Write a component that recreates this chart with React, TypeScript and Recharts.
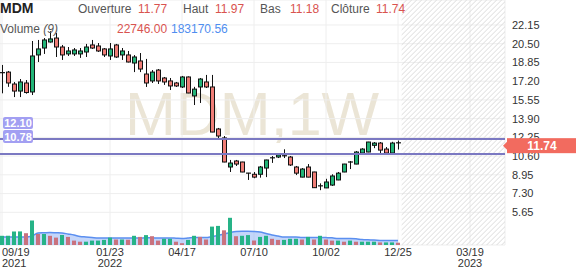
import React from "react";
import {
  ComposedChart,
  Bar,
  Area,
  Line,
  XAxis,
  YAxis,
  CartesianGrid,
  ReferenceLine,
  ReferenceArea,
  Cell,
} from "recharts";

// weekly candles, 09/19/2021 .. 12/25/2022
const opens = [
  17.9, 18.0, 16.95, 16.33, 17.04, 16.25, 19.51, 20.12, 20.65, 21.0, 20.21, 19.6, 19.6, 19.6, 19.77, 20.39, 20.3,
  20.04, 19.42, 20.39, 19.51, 19.51, 18.8, 18.98, 17.83, 17.22, 18.18, 17.48, 17.22, 17.04, 16.69, 17.57, 15.9,
  16.69, 17.13, 16.69, 12.99, 12.2, 9.64, 10.17, 10.08, 9.05, 9.0, 9.0, 9.55, 10.4, 10.52, 10.58, 10.52, 9.64,
  8.75, 9.64, 9.2, 7.95, 7.8, 8.05, 8.5, 9.2, 10.0, 9.9, 10.87, 10.96, 11.55, 11.75, 11.22, 10.87, 11.77,
];
const highs = [
  18.63, 18.1, 17.13, 17.39, 17.3, 20.74, 20.83, 21.0, 21.6, 21.45, 20.39, 20.21, 20.12, 20.12, 20.48, 20.83, 20.56,
  20.12, 20.56, 20.48, 20.12, 19.86, 19.5, 19.68, 19.16, 18.18, 18.27, 17.57, 17.48, 17.13, 17.66, 17.62, 16.7,
  17.48, 17.75, 17.75, 13.08, 12.37, 10.26, 10.26, 10.1, 9.12, 9.2, 9.73, 10.28, 10.61, 10.87, 11.2, 10.61, 9.73,
  9.55, 9.9, 9.22, 8.2, 8.6, 9.0, 9.2, 9.92, 10.17, 11.05, 11.3, 11.86, 11.84, 11.84, 11.4, 11.86, 11.97,
];
const lows = [
  16.13, 16.7, 15.8, 15.8, 16.1, 15.98, 18.89, 19.6, 20.6, 19.33, 19.07, 19.42, 19.42, 19.25, 19.33, 20.04, 19.77,
  19.33, 19.07, 19.25, 19.07, 18.85, 18.0, 18.0, 16.69, 17.04, 16.95, 16.87, 16.42, 16.69, 16.6, 16.14, 15.1,
  15.28, 16.6, 12.7, 12.02, 10.06, 9.2, 9.73, 9.18, 8.5, 8.65, 8.7, 8.75, 10.0, 10.43, 10.43, 9.73, 8.93,
  8.73, 8.73, 7.8, 7.6, 7.78, 7.97, 8.48, 9.18, 9.46, 9.88, 10.85, 10.94, 11.3, 10.87, 10.85, 10.85, 11.18,
];
const closes = [
  17.95, 17.04, 16.33, 17.13, 16.2, 19.42, 20.04, 20.83, 20.92, 20.21, 19.51, 19.86, 19.95, 19.86, 20.21, 20.12, 19.86,
  19.51, 20.04, 19.33, 19.86, 18.89, 19.33, 18.27, 17.04, 18.0, 17.22, 17.13, 16.78, 16.78, 17.57, 16.16, 16.5,
  17.39, 16.69, 12.72, 12.37, 10.08, 9.99, 9.9, 9.2, 9.1, 8.75, 9.64, 10.26, 10.45, 10.7, 10.63, 9.82, 9.1,
  9.46, 8.75, 7.82, 7.98, 8.32, 8.85, 9.1, 9.9, 10.08, 10.96, 11.22, 11.84, 11.75, 11.13, 10.87, 11.75, 11.74,
];
const volumes = [
  92000, 92000, 136000, 136000, 118000, 246000, 110000, 110000, 92000, 74000, 99000, 81000, 44000, 33000, 33000,
  44000, 44000, 51000, 74000, 55000, 55000, 53000, 92000, 81000, 99000, 88000, 44000, 62000, 62000, 33000, 18000,
  51000, 92000, 81000, 55000, 184000, 191000, 147000, 272000, 88000, 92000, 99000, 44000, 81000, 92000, 62000,
  51000, 51000, 62000, 62000, 55000, 81000, 55000, 92000, 55000, 44000, 44000, 33000, 44000, 33000, 33000, 33000,
  33000, 26000, 26000, 26000, 22746,
];
const volumeMA = [
  80000, 80000, 80000, 80000, 80000, 90000, 120000, 122000, 124000, 122000, 120000, 110000, 100000, 85000, 80000,
  75000, 70000, 70000, 70000, 70000, 70000, 70000, 70000, 70000, 72000, 72000, 70000, 70000, 70000, 68000, 66000,
  70000, 75000, 75000, 75000, 85000, 95000, 110000, 125000, 136000, 138000, 138000, 136000, 130000, 115000, 100000,
  90000, 80000, 80000, 80000, 75000, 75000, 75000, 75000, 74000, 72000, 65000, 65000, 65000, 62000, 55000, 52000,
  50000, 46000, 44000, 44000, 44000,
];

const tickWeeks = [0, 18, 30, 42, 54, 66, 78];
const tickDates = ["09/19", "01/23", "04/17", "07/10", "10/02", "12/25", "03/19"];
const tickYears = ["2021", "2022", "", "", "", "", "2023"];
const priceTicks = [22.15, 20.5, 18.85, 17.2, 15.55, 13.9, 12.25, 10.6, 8.95, 7.3, 5.65];

const levelHigh = 12.1;
const levelLow = 10.78;
const lastClose = 11.74;

const data = opens.map((o, i) => ({
  i,
  open: o,
  high: highs[i],
  low: lows[i],
  close: closes[i],
  range: [lows[i], highs[i]],
  volume: volumes[i],
  ma: volumeMA[i],
}));

const FONT = "Arial, 'Liberation Sans', sans-serif";
const GREEN = "#22b477";
const RED = "#ef7d76";
const X_DOMAIN: [number, number] = [-1 / 3, 83.83];
const P_DOMAIN: [number, number] = [2.77, 24.35];

const Candle = (props: any) => {
  const { x, y, width, height, payload } = props;
  const { open, close, high, low } = payload;
  const cx = Math.round(x + width / 2) + 0.5;
  const k = height / (high - low);
  const py = (v: number) => y + (high - v) * k;
  const top = py(Math.max(open, close));
  const bot = py(Math.min(open, close));
  const flat = bot - top < 1.5;
  return (
    <g>
      <line x1={cx} x2={cx} y1={y} y2={y + height} stroke="#111" strokeWidth={1} />
      {flat ? (
        <line x1={cx - 2.5} x2={cx + 2.5} y1={top} y2={top} stroke="#111" strokeWidth={1.2} />
      ) : (
        <rect
          x={cx - 2}
          y={top}
          width={4}
          height={bot - top}
          fill={close >= open ? GREEN : RED}
          stroke="#111"
          strokeWidth={1}
        />
      )}
    </g>
  );
};

const DateTick = (props: any) => {
  const { x, y, payload, index } = props;
  const k = tickWeeks.indexOf(payload.value);
  const anchor = index === 0 ? "start" : "middle";
  return (
    <g>
      <text x={x} y={y + 9} textAnchor={anchor} fontSize={11} fill="#333" fontFamily={FONT}>
        {tickDates[k]}
      </text>
      <text x={x} y={y + 20} textAnchor={anchor} fontSize={11} fill="#333" fontFamily={FONT}>
        {tickYears[k]}
      </text>
    </g>
  );
};

// striped "future" zone right of the last bar
const Hatch = (props: any) => {
  const { x, y, width, height } = props;
  const lines = [];
  for (let d = -height; d < width; d += 5) {
    lines.push(
      <line key={d} x1={x + d} y1={y + height} x2={x + d + height} y2={y} stroke="#dcdcdc" strokeWidth={1} />
    );
  }
  return (
    <g>
      <clipPath id="hatchClip">
        <rect x={x} y={y} width={width} height={height} />
      </clipPath>
      <g clipPath="url(#hatchClip)">{lines}</g>
    </g>
  );
};

const LevelLabel = (props: any) => {
  const { viewBox, text, dy, h } = props;
  const top = viewBox.y + dy;
  return (
    <g>
      <rect x={3} y={top} width={30} height={h} rx={2} fill="#a29ff2" />
      <text x={18} y={top + h / 2 + 4} textAnchor="middle" fontSize={11} fontWeight="bold" fill="#fff" fontFamily={FONT}>
        {text}
      </text>
    </g>
  );
};

const PriceLabel = (props: any) => {
  const { viewBox } = props;
  const left = viewBox.x + viewBox.width + 2;
  const cy = viewBox.y + 2.5;
  return (
    <g>
      <polygon points={`${left - 4},${cy} ${left},${cy - 4} ${left},${cy + 4}`} fill="#f26b5f" />
      <rect x={left} y={cy - 7.5} width={576 - left} height={15} fill="#f26b5f" />
      <text x={left + 35} y={cy + 4.5} textAnchor="middle" fontSize={12} fontWeight="bold" fill="#fff" fontFamily={FONT}>
        {lastClose.toFixed(2)}
      </text>
    </g>
  );
};

export default function App() {
  return (
    <div
      style={{
        position: "fixed",
        left: 0,
        top: 0,
        width: 576,
        height: 268,
        background: "#fff",
        overflow: "hidden",
        fontFamily: FONT,
      }}
    >
      <div
        style={{
          position: "absolute",
          left: 125,
          top: 84,
          fontSize: 61,
          lineHeight: "61px",
          color: "#ebe5d6",
          whiteSpace: "nowrap",
        }}
      >
        MDM,1W
      </div>
      <div style={{ position: "absolute", left: 0, top: 0 }}>
        <ComposedChart width={576} height={268} data={data} margin={{ top: 0, right: 0, bottom: 0, left: 0 }}>
          <XAxis
            xAxisId="c"
            dataKey="i"
            type="number"
            domain={X_DOMAIN}
            allowDataOverflow
            ticks={tickWeeks}
            interval={0}
            axisLine={false}
            tickLine={false}
            tickSize={0}
            height={23}
            tick={<DateTick />}
          />
          <XAxis xAxisId="v" dataKey="i" type="number" domain={X_DOMAIN} allowDataOverflow hide />
          <YAxis
            yAxisId="p"
            orientation="right"
            width={71}
            domain={P_DOMAIN}
            ticks={priceTicks}
            interval={0}
            axisLine={false}
            tickLine={false}
            tickSize={0}
            tickMargin={7}
            tick={{ fontSize: 11, fill: "#333", fontFamily: FONT, textAnchor: "start" }}
            tickFormatter={(v: number) => v.toFixed(2)}
          />
          <YAxis yAxisId="vol" domain={[0, 2450000]} hide />
          <CartesianGrid xAxisId="c" yAxisId="p" stroke="#eeeeee" />
          <ReferenceArea
            xAxisId="c"
            yAxisId="p"
            x1={66.6}
            x2={X_DOMAIN[1]}
            y1={P_DOMAIN[0]}
            y2={P_DOMAIN[1]}
            shape={<Hatch />}
          />
          <Bar xAxisId="v" yAxisId="vol" dataKey="volume" barSize={4} isAnimationActive={false}>
            {data.map((d, i) => (
              <Cell key={i} fill={i > 0 && d.volume < volumes[i - 1] ? "#c9727e" : "#26b387"} />
            ))}
          </Bar>
          <Area
            xAxisId="v"
            yAxisId="vol"
            dataKey="ma"
            type="monotone"
            fill="#8aaef5"
            fillOpacity={0.5}
            stroke="#5b8ff0"
            strokeWidth={1.5}
            dot={false}
            isAnimationActive={false}
          />
          <Bar xAxisId="c" yAxisId="p" dataKey="range" barSize={4} shape={<Candle />} isAnimationActive={false} />
          <ReferenceLine
            xAxisId="c"
            yAxisId="p"
            y={levelHigh}
            stroke="#7b79c2"
            strokeWidth={2}
            label={(p: any) => <LevelLabel {...p} text={levelHigh.toFixed(2)} dy={-22} h={12} />}
          />
          <ReferenceLine
            xAxisId="c"
            yAxisId="p"
            y={levelLow}
            stroke="#7b79c2"
            strokeWidth={2}
            label={(p: any) => <LevelLabel {...p} text={levelLow.toFixed(2)} dy={-24} h={13} />}
          />
        </ComposedChart>
      </div>
      {/* overlay with the same layout so the last-price tag sits above the axis text */}
      <div style={{ position: "absolute", left: 0, top: 0 }}>
        <ComposedChart width={576} height={268} data={data} margin={{ top: 0, right: 0, bottom: 0, left: 0 }}>
          <XAxis xAxisId="c" dataKey="i" type="number" domain={X_DOMAIN} allowDataOverflow height={23} tick={false} axisLine={false} tickLine={false} />
          <YAxis yAxisId="p" orientation="right" width={71} domain={P_DOMAIN} allowDataOverflow tick={false} axisLine={false} tickLine={false} />
          <Line xAxisId="c" yAxisId="p" dataKey="close" stroke="none" dot={false} activeDot={false} isAnimationActive={false} />
          <ReferenceLine
            xAxisId="c"
            yAxisId="p"
            y={lastClose}
            stroke="transparent"
            label={(p: any) => <PriceLabel {...p} />}
          />
        </ComposedChart>
      </div>
      <svg width={576} height={40} style={{ position: "absolute", left: 0, top: 0 }} fontFamily={FONT}>
        <text x={0} y={13} fontSize={14} fontWeight="bold" fill="#222">MDM</text>
        <text x={78} y={12.5} fontSize={12} fill="#555">Ouverture</text>
        <text x={138} y={12.5} fontSize={12} fill="#d9534f">11.77</text>
        <text x={183} y={12.5} fontSize={12} fill="#555">Haut</text>
        <text x={215} y={12.5} fontSize={12} fill="#d9534f">11.97</text>
        <text x={260} y={12.5} fontSize={12} fill="#555">Bas</text>
        <text x={290} y={12.5} fontSize={12} fill="#d9534f">11.18</text>
        <text x={331} y={12.5} fontSize={12} fill="#555">Clôture</text>
        <text x={376} y={12.5} fontSize={12} fill="#d9534f">11.74</text>
        <text x={0} y={33} fontSize={12} fill="#555">
          Volume <tspan fontStyle="italic">(9)</tspan>
        </text>
        <text x={117} y={33} fontSize={12} fill="#d9534f">22746.00</text>
        <text x={171} y={33} fontSize={12} fill="#4f8ef0">183170.56</text>
      </svg>
    </div>
  );
}
